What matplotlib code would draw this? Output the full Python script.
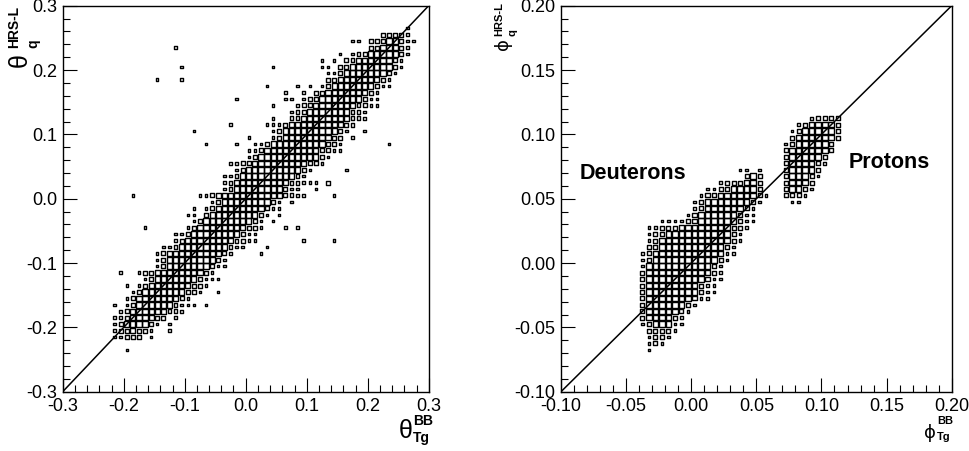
import matplotlib
matplotlib.use("Agg")
import matplotlib.pyplot as plt
from matplotlib.patches import Rectangle
from matplotlib.collections import PatchCollection
from matplotlib.ticker import MultipleLocator, FormatStrFormatter

plt.rcParams['font.family'] = ['Liberation Sans', 'DejaVu Sans']
plt.rcParams['axes.unicode_minus'] = False

# --- theta panel: 60x60 bins of 0.01 from -0.3 ---
# (row, first column, cell levels) ; '.' empty, 1 small, 2 medium, 3 large
theta_band = [
    (55, 52, "22221"),
    (54, 47, "11.22233211"),
    (53, 50, "2233321"),
    (52, 47, "1223333321"),
    (51, 46, "2233333321"),
    (50, 42, "11.22333333321"),
    (49, 43, "112333333321"),
    (48, 43, "22333333321"),
    (47, 42, "123333333211"),
    (46, 41, "22333333321"),
    (45, 39, "1223333333211"),
    (44, 38, "12233333332211"),
    (43, 37, "1223333333221"),
    (42, 37, "2233333333221"),
    (41, 35, "1233333333322"),
    (40, 34, "1233333333321"),
    (39, 34, "123333333322"),
    (38, 31, "112333333333221"),
    (37, 30, "1123333333332211"),
    (36, 30, "12333333333321"),
    (35, 27, "1122333333333221"),
    (34, 28, "1233333333321"),
    (33, 26, "11233333333321"),
    (32, 26, "1233333333322111.2"),
    (31, 26, "1233333333211"),
    (30, 22, "112333333333332211"),
    (29, 24, "123333333321"),
    (28, 23, "1233333333211"),
    (27, 23, "23333333321"),
    (26, 21, "123333333321"),
    (25, 20, "1233333333221"),
    (24, 18, "11233333333211"),
    (23, 18, "12333333332211"),
    (22, 16, "11233333333211"),
    (21, 15, "1233333333321"),
    (20, 15, "123333333321"),
    (19, 15, "123333333211"),
    (18, 12, "1223333333321"),
    (17, 13, "1233333332111"),
    (16, 12, "123333333221"),
    (15, 11, "123333333221"),
    (14, 10, "12333333321"),
    (13, 10, "123333332111"),
    (12, 9, "12333333221"),
    (11, 8, "112333322"),
    (10, 8, "12333321"),
    (9, 8, "1223221"),
    (8, 8, "11222.1"),
]
# isolated single entries (column, row)
theta_single = [
    (56, 56), (18, 53), (45, 52), (42, 51), (44, 51), (19, 50), (34, 50),
    (15, 48), (19, 48), (33, 47), (38, 47), (40, 47), (36, 46), (39, 46),
    (28, 45), (36, 45), (37, 45), (34, 44), (34, 42), (27, 41), (33, 41),
    (34, 41), (21, 40), (49, 40), (30, 39), (47, 39), (23, 38), (28, 38),
    (53, 38), (46, 34), (41, 31), (11, 30), (44, 30), (37, 29), (21, 28),
    (20, 27), (21, 27), (35, 27), (34, 26), (13, 25), (36, 25), (38, 25),
    (39, 23), (44, 23), (33, 22), (32, 21), (9, 18), (10, 16), (25, 15),
    (8, 13), (23, 13), (18, 11), (17, 10), (17, 9), (10, 6),
]

# --- phi panel: 60x60 bins of 0.005 from -0.1 ---
phi_band = [
    # protons
    (42, 38, "12222"),
    (41, 36, "1233332"),
    (40, 35, "12333332"),
    (39, 35, "23333332"),
    (38, 34, "12333332"),
    (37, 34, "23333332"),
    (36, 34, "2333332"),
    (35, 34, "2333321"),
    (34, 34, "233332"),
    (33, 34, "233321"),
    (32, 34, "23332"),
    (31, 34, "23321"),
    (30, 34, "2221"),
    (29, 35, "11"),
    # deuterons
    (34, 27, "11.1"),
    (33, 28, "232"),
    (32, 24, "1222332"),
    (31, 22, "112233332"),
    (30, 21, "12233333321"),
    (29, 20, "12333333321"),
    (28, 20, "1233333321"),
    (27, 19, "12333333211"),
    (26, 15, "111122333333211"),
    (25, 13, "1122233333333221"),
    (24, 13, "122333333333321"),
    (23, 13, "123333333333321"),
    (22, 13, "22333333333321"),
    (21, 12, "123333333333311"),
    (20, 12, "12333333333321"),
    (19, 12, "1333333333321"),
    (18, 12, "2333333333321"),
    (17, 12, "2333333333211"),
    (16, 12, "233333333211"),
    (15, 12, "233333333211"),
    (14, 12, "23333333211"),
    (13, 12, "233333321"),
    (12, 12, "23333321"),
    (11, 12, "2333321"),
    (10, 12, "1233311"),
    (9, 13, "22221"),
    (8, 13, "1221"),
    (7, 13, "121"),
    (6, 13, "1"),
]
phi_single = []

theta_ticks = [-0.3, -0.2, -0.1, 0.0, 0.1, 0.2, 0.3]
phi_ticks = [-0.10, -0.05, 0.00, 0.05, 0.10, 0.15, 0.20]

LEVEL = {'1': 0.38, '2': 0.62, '3': 0.86}


def draw_boxes(ax, band, single, lo, bw):
    boxes = []
    cells = [(start + k, row, c) for row, start, s in band for k, c in enumerate(s) if c != '.']
    cells += [(col, row, '1') for col, row in single]
    for col, row, c in cells:
        f = LEVEL[c]
        cx = lo + (col + 0.5) * bw
        cy = lo + (row + 0.5) * bw
        boxes.append(Rectangle((cx - f * bw / 2, cy - f * bw / 2), f * bw, f * bw))
    ax.add_collection(PatchCollection(boxes, facecolor='none', edgecolor='black', linewidth=1.0))


def style_axis(ax, ticks, minor, fmt):
    lo, hi = ticks[0], ticks[-1]
    ax.set_xlim(lo, hi)
    ax.set_ylim(lo, hi)
    ax.plot([lo, hi], [lo, hi], color='black', lw=1.1)
    ax.set_xticks(ticks)
    ax.set_yticks(ticks)
    ax.xaxis.set_minor_locator(MultipleLocator(minor))
    ax.yaxis.set_minor_locator(MultipleLocator(minor))
    ax.xaxis.set_major_formatter(FormatStrFormatter(fmt))
    ax.yaxis.set_major_formatter(FormatStrFormatter(fmt))
    ax.tick_params(which='both', direction='in', top=False, right=False, width=0.8, labelsize=13)
    ax.tick_params(which='major', length=10)
    ax.tick_params(which='minor', length=5)
    ax.tick_params(axis='x', pad=4.5)
    ax.tick_params(axis='y', pad=4)
    for sp in ax.spines.values():
        sp.set_linewidth(1.0)


W, H = 969, 451
fig = plt.figure(figsize=(W / 100, H / 100), dpi=100)


def fx(px):
    return px / W


def fy(py):
    return 1 - py / H


ax1 = fig.add_axes([fx(62.7), fy(391.7), 366 / W, 386 / H])
ax2 = fig.add_axes([fx(561), fy(391.7), 390.7 / W, 386 / H])

draw_boxes(ax1, theta_band, theta_single, -0.3, 0.01)
style_axis(ax1, theta_ticks, 0.02, '%.1f')
draw_boxes(ax2, phi_band, phi_single, -0.1, 0.005)
style_axis(ax2, phi_ticks, 0.01, '%.2f')

ax2.text(0.0486, 0.5648, 'Deuterons', transform=ax2.transAxes, fontsize=15.5,
         fontweight='bold', ha='left', va='center')
ax2.text(0.7354, 0.595, 'Protons', transform=ax2.transAxes, fontsize=15.5,
         fontweight='bold', ha='left', va='center')

# axis titles: symbol with bold super/subscripts
fig.text(fx(406), fy(431), '\u03b8', fontsize=18, ha='center', va='center')
fig.text(fx(413), fy(421), 'BB', fontsize=10, fontweight='bold', ha='left', va='center')
fig.text(fx(413), fy(438), 'Tg', fontsize=10, fontweight='bold', ha='left', va='center')

fig.text(fx(20), fy(60), '\u03b8', fontsize=18, ha='center', va='center', rotation=90)
fig.text(fx(14), fy(27), 'HRS-L', fontsize=10, fontweight='bold', ha='center', va='center', rotation=90)
fig.text(fx(33), fy(44), 'q', fontsize=10, fontweight='bold', ha='center', va='center', rotation=90)

fig.text(fx(930), fy(433), '\u03d5', fontsize=13, ha='center', va='center', family=['DejaVu Sans'])
fig.text(fx(937), fy(421), 'BB', fontsize=8, fontweight='bold', ha='left', va='center')
fig.text(fx(937), fy(437), 'Tg', fontsize=8, fontweight='bold', ha='left', va='center')

fig.text(fx(503), fy(44), '\u03d5', fontsize=13, ha='center', va='center', rotation=90, family=['DejaVu Sans'])
fig.text(fx(499), fy(19), 'HRS-L', fontsize=8, fontweight='bold', ha='center', va='center', rotation=90)
fig.text(fx(512), fy(33), 'q', fontsize=8, fontweight='bold', ha='center', va='center', rotation=90)

fig.savefig('out.png', dpi=100)
